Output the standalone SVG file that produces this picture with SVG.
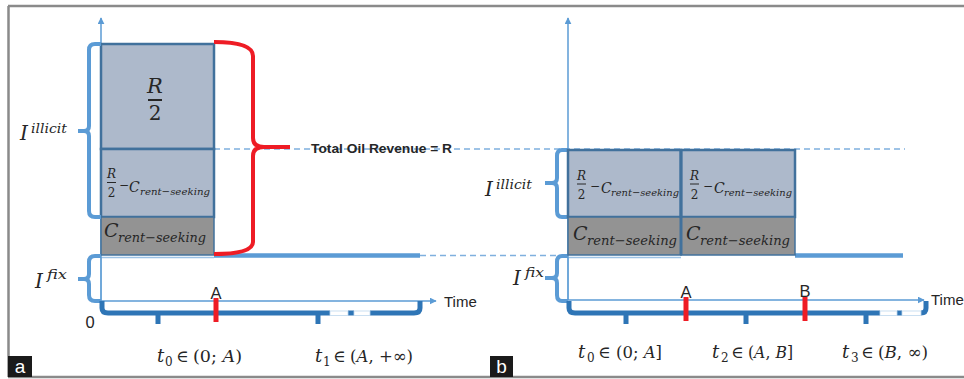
<svg xmlns="http://www.w3.org/2000/svg" width="964" height="379" viewBox="0 0 964 379">
<defs>
<marker id="arr" viewBox="0 0 10 10" refX="9" refY="5" markerWidth="7" markerHeight="7" markerUnits="userSpaceOnUse" orient="auto"><path d="M0,0 L10,5 L0,10 z" fill="#5b9bd5"/></marker>
<style>
.frame{fill:none;stroke:#8a8a8a;stroke-width:2.5}
.axis{fill:none;stroke:#5b9bd5;stroke-width:1.5}
.thin{fill:none;stroke:#9dc3e6;stroke-width:1.5}
.lb{fill:none;stroke:#5b9bd5;stroke-width:4;stroke-linejoin:round;stroke-linecap:butt}
.db{fill:none;stroke:#2e75b6;stroke-width:5;stroke-linejoin:round}
.red{fill:none;stroke:#ee1c25;stroke-width:4;stroke-linejoin:round}
.redmk{stroke:#ee1c25;stroke-width:5}
.dash{fill:none;stroke:#7fb0de;stroke-width:1.3;stroke-dasharray:6 4}
.ddash{fill:none;stroke:#41719c;stroke-width:2;stroke-dasharray:5 3}
.box{fill:#adb9cb;stroke:#41719c;stroke-width:2.5}
.gbox{fill:#939393;stroke:#41719c;stroke-width:1.5}
.m{font-family:"DejaVu Serif","Liberation Serif",serif;font-style:italic;fill:#262626}
.mu{font-family:"DejaVu Serif","Liberation Serif",serif;fill:#262626}
.s{font-family:"Liberation Sans",Arial,sans-serif;fill:#262626}
.tag{font-family:"Liberation Sans",Arial,sans-serif;fill:#ffffff;font-size:19px}
</style>
</defs>

<g id="frame">
<path class="frame" d="M8,6 L964,6 M8.5,6 L8.5,377 M8,377 L964,377"/>
<rect x="8" y="356" width="24" height="21" fill="#1a1a1a"/>
<text class="tag" x="20" y="373" text-anchor="middle">a</text>
<rect x="490" y="356" width="23" height="21" fill="#1a1a1a"/>
<text class="tag" x="501.5" y="373" text-anchor="middle">b</text>
</g>

<g id="connectors">
<path class="dash" d="M214,149 L905,149"/>
<path class="dash" d="M420,255.5 L557,255.5"/>
<path class="thin" d="M101,257.5 L214,257.5"/>
<path d="M214,255.5 L420,255.5" stroke="#5b9bd5" stroke-width="4.5"/>
<path class="thin" d="M568,257.5 L681,257.5"/>
<path d="M795,255.5 L903,255.5" stroke="#5b9bd5" stroke-width="4.5"/>
<path class="thin" d="M101,257 L101,301 M568,257 L568,300"/>
<path class="axis" d="M101,301 L101,18" marker-end="url(#arr)"/>
<path class="axis" d="M101,301 L436,301" marker-end="url(#arr)"/>
<path class="axis" d="M568,300 L568,18" marker-end="url(#arr)"/>
<path class="axis" d="M568,300 L924,300" marker-end="url(#arr)"/>
</g>

<g id="box-a-r2">
<rect class="box" x="101" y="44" width="113" height="105"/>
<text class="m" x="155" y="93" font-size="21" text-anchor="middle">R</text>
<line x1="148" y1="100" x2="162" y2="100" stroke="#262626" stroke-width="2"/>
<text class="mu" x="155" y="120" font-size="20" text-anchor="middle">2</text>
</g>

<g id="box-a-illicit">
<rect class="box" x="101" y="149" width="113" height="68"/>
<path class="ddash" d="M102,149 L213,149"/>
<text class="m" x="111.5" y="178" font-size="12" text-anchor="middle">R</text>
<line x1="107" y1="182.5" x2="116" y2="182.5" stroke="#262626" stroke-width="1"/>
<text class="mu" x="111.5" y="197" font-size="12" text-anchor="middle">2</text>
<text class="mu" x="119" y="189" font-size="12">−</text>
<text class="m" x="129" y="192" font-size="14">C</text>
<text class="m" x="140" y="195" font-size="10" textLength="70" lengthAdjust="spacingAndGlyphs">rent−seeking</text>
</g>

<g id="box-a-rent">
<rect class="gbox" x="101" y="217" width="113" height="38"/>
<text class="m" x="104" y="237" font-size="19">C</text>
<text class="m" x="118" y="242" font-size="13" textLength="88" lengthAdjust="spacingAndGlyphs">rent−seeking</text>
</g>

<g id="brace-a-illicit">
<path class="lb" d="M101,44 L95,44 Q89,44 89,50 L89,126 Q89,131 84,131 L78,131 M84,131 Q89,131 89,136 L89,211 Q89,217 95,217 L101,217"/>
<text class="m" x="20" y="140" font-size="20">I</text>
<text class="m" x="31" y="133" font-size="13" textLength="36" lengthAdjust="spacingAndGlyphs">illicit</text>
</g>

<g id="brace-a-fix">
<path class="lb" d="M101,256 L95,256 Q89,256 89,262 L89,274 Q89,279 84,279 L78,279 M84,279 Q89,279 89,284 L89,295 Q89,301 95,301 L101,301"/>
<text class="m" x="35" y="288" font-size="20">I</text>
<text class="m" x="47" y="279" font-size="13" textLength="20" lengthAdjust="spacingAndGlyphs">fix</text>
</g>

<g id="brace-revenue">
<path class="red" d="M214,42 Q253,42 253,56 L253,138 Q253,147 264,147 L290,147 M264,147 Q253,147 253,156 L253,242 Q253,254 214,254"/>
<text class="s" x="311" y="153" font-size="12.5" font-weight="bold" textLength="141" lengthAdjust="spacingAndGlyphs">Total Oil Revenue = R</text>
</g>

<g id="timeline-a">
<path class="db" d="M102,301 L102,308 Q102,313 108,313 L330,313 M348,313 L354,313 M370,313 L414,313 Q420,313 420,308 L420,301"/>
<path class="db" d="M158,313 L158,324 M318,313 L318,324"/>
<rect x="330" y="311" width="18" height="4.5" fill="#ffffff" stroke="#bdd7ee" stroke-width="0.8"/>
<rect x="354" y="311" width="16" height="4.5" fill="#ffffff" stroke="#bdd7ee" stroke-width="0.8"/>
<line class="redmk" x1="216" y1="298" x2="216" y2="322"/>
<text class="s" x="216" y="299" font-size="16.5" text-anchor="middle">A</text>
<text class="s" x="90" y="328" font-size="16.5" text-anchor="middle">0</text>
<text class="s" x="444" y="307" font-size="15">Time</text>
</g>

<g id="label-a-t0">
<text class="m" x="157" y="362" font-size="18">t</text>
<text class="mu" x="165" y="366" font-size="12">0</text>
<text class="mu" x="176" y="362" font-size="17">∈</text>
<text class="mu" x="193" y="362" font-size="17" textLength="49" lengthAdjust="spacingAndGlyphs">(0; <tspan font-style="italic">A</tspan>)</text>
</g>
<g id="label-a-t1">
<text class="m" x="315" y="362" font-size="18">t</text>
<text class="mu" x="323" y="366" font-size="12">1</text>
<text class="mu" x="333" y="362" font-size="17">∈</text>
<text class="mu" x="350" y="362" font-size="17" textLength="63" lengthAdjust="spacingAndGlyphs">(<tspan font-style="italic">A</tspan>, +∞)</text>
</g>

<g id="brace-b-illicit">
<path class="lb" d="M568,150 L562,150 Q557,150 557,156 L557,178 Q557,183 552,183 L545,183 M552,183 Q557,183 557,188 L557,211 Q557,217 562,217 L568,217"/>
<text class="m" x="485" y="196" font-size="20">I</text>
<text class="m" x="496" y="189" font-size="13" textLength="36" lengthAdjust="spacingAndGlyphs">illicit</text>
</g>
<g id="brace-b-fix">
<path class="lb" d="M568,256 L562,256 Q557,256 557,262 L557,273 Q557,278 552,278 L545,278 M552,278 Q557,278 557,283 L557,295 Q557,301 562,301 L568,301"/>
<text class="m" x="513" y="285" font-size="20">I</text>
<text class="m" x="525" y="277" font-size="13" textLength="19" lengthAdjust="spacingAndGlyphs">fix</text>
</g>

<g id="box-b1">
<rect class="box" x="568" y="150" width="113" height="67"/>
<path class="ddash" d="M569,150 L680,150"/>
<rect class="gbox" x="568" y="217" width="113" height="38"/>
<text class="m" x="581.5" y="180" font-size="12" text-anchor="middle">R</text>
<line x1="577" y1="184" x2="586" y2="184" stroke="#262626" stroke-width="1"/>
<text class="mu" x="581.5" y="199" font-size="12" text-anchor="middle">2</text>
<text class="mu" x="590" y="190" font-size="12">−</text>
<text class="m" x="601" y="193" font-size="14">C</text>
<text class="m" x="611" y="196" font-size="10" textLength="68" lengthAdjust="spacingAndGlyphs">rent−seeking</text>
<text class="m" x="573" y="240" font-size="19">C</text>
<text class="m" x="587" y="245" font-size="13" textLength="90" lengthAdjust="spacingAndGlyphs">rent−seeking</text>
</g>

<g id="box-b2">
<rect class="box" x="681" y="150" width="114" height="67"/>
<path class="ddash" d="M682,150 L794,150"/>
<rect class="gbox" x="681" y="217" width="114" height="38"/>
<line x1="681" y1="150" x2="681" y2="255" stroke="#41719c" stroke-width="3"/>
<text class="m" x="694.5" y="180" font-size="12" text-anchor="middle">R</text>
<line x1="690" y1="184" x2="699" y2="184" stroke="#262626" stroke-width="1"/>
<text class="mu" x="694.5" y="199" font-size="12" text-anchor="middle">2</text>
<text class="mu" x="703" y="190" font-size="12">−</text>
<text class="m" x="714" y="193" font-size="14">C</text>
<text class="m" x="724" y="196" font-size="10" textLength="68" lengthAdjust="spacingAndGlyphs">rent−seeking</text>
<text class="m" x="686" y="240" font-size="19">C</text>
<text class="m" x="700" y="245" font-size="13" textLength="90" lengthAdjust="spacingAndGlyphs">rent−seeking</text>
</g>

<g id="timeline-b">
<path class="db" d="M569,301 L569,308 Q569,313 575,313 L880,313 M897,313 L902,313 M921,313 Q926,313 926,308 L926,301"/>
<path class="db" d="M626,313 L626,324 M746,313 L746,324 M866,313 L866,324"/>
<rect x="880" y="311" width="17" height="4.5" fill="#ffffff" stroke="#bdd7ee" stroke-width="0.8"/>
<rect x="902" y="311" width="19" height="4.5" fill="#ffffff" stroke="#bdd7ee" stroke-width="0.8"/>
<line class="redmk" x1="686" y1="297" x2="686" y2="321"/>
<line class="redmk" x1="805" y1="297" x2="805" y2="321"/>
<text class="s" x="686" y="298" font-size="16.5" text-anchor="middle">A</text>
<text class="s" x="805" y="297" font-size="16.5" text-anchor="middle">B</text>
<text class="s" x="931" y="305" font-size="15">Time</text>
</g>

<g id="label-b-t0">
<text class="m" x="578" y="358" font-size="18">t</text>
<text class="mu" x="587" y="362" font-size="12">0</text>
<text class="mu" x="598" y="358" font-size="17">∈</text>
<text class="mu" x="616" y="358" font-size="17" textLength="46" lengthAdjust="spacingAndGlyphs">(0; <tspan font-style="italic">A</tspan>]</text>
</g>
<g id="label-b-t2">
<text class="m" x="712" y="358" font-size="18">t</text>
<text class="mu" x="721" y="362" font-size="12">2</text>
<text class="mu" x="731" y="358" font-size="17">∈</text>
<text class="mu" x="748" y="358" font-size="17" textLength="45" lengthAdjust="spacingAndGlyphs">(<tspan font-style="italic">A</tspan>, <tspan font-style="italic">B</tspan>]</text>
</g>
<g id="label-b-t3">
<text class="m" x="842" y="358" font-size="18">t</text>
<text class="mu" x="851" y="362" font-size="12">3</text>
<text class="mu" x="861" y="358" font-size="17">∈</text>
<text class="mu" x="878" y="358" font-size="17" textLength="50" lengthAdjust="spacingAndGlyphs">(<tspan font-style="italic">B</tspan>, ∞)</text>
</g>
</svg>
